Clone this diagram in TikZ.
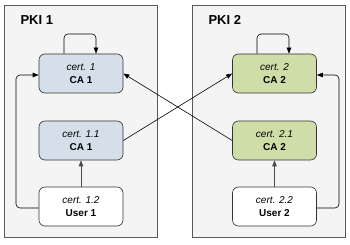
\documentclass[tikz,border=0pt]{standalone}
\usepackage{fontspec}
\setmainfont{Liberation Sans}
\usetikzlibrary{arrows.meta}
\definecolor{caone}{HTML}{D5DFE9}
\definecolor{catwo}{HTML}{CFDDA8}
\definecolor{pkibg}{HTML}{F4F4F4}

\begin{document}
\begin{tikzpicture}[x=1pt, y=-1pt,
    pki/.style={draw=black!65, fill=pkibg, line width=0.6pt},
    title/.style={anchor=base west, font=\fontsize{13}{15}\selectfont\bfseries},
    cert/.style={draw=black!80, fill=white, rounded corners=6pt, minimum width=84pt, minimum height=39pt, inner sep=0pt, line width=0.6pt, align=center, font=\fontsize{10}{13}\selectfont},
    link/.style={-{Triangle[length=6pt,width=4.5pt]}, line width=0.6pt, rounded corners=4pt}]

    \useasboundingbox (0,0) rectangle (350,245);

    % the two PKIs
    \draw[pki] (4.5,5) rectangle (157,237.5);
    \draw[pki] (192,5) rectangle (345,237.5);
    \node[title] (T1) at (17,25) {PKI 1};
    \node[title] (T2) at (205,25) {PKI 2};

    % certificates
    \node[cert, fill=caone] (C1) at (81,73.5) {\textit{cert. 1}\\\textbf{CA 1}};
    \node[cert, fill=caone] (C11) at (81,140.5) {\textit{cert. 1.1}\\\textbf{CA 1}};
    \node[cert] (C12) at (81,206.5) {\textit{cert. 1.2}\\\textbf{User 1}};

    \node[cert, fill=catwo] (C2) at (274.5,73.5) {\textit{cert. 2}\\\textbf{CA 2}};
    \node[cert, fill=catwo] (C21) at (274.5,140.5) {\textit{cert. 2.1}\\\textbf{CA 2}};
    \node[cert] (C22) at (274.5,206.5) {\textit{cert. 2.2}\\\textbf{User 2}};

    % self signed
    \draw[link] (C1.north -| 64,0) |- (80,34) -| (C1.north -| 96,0);
    \draw[link] (C2.north -| 257,0) |- (273,34) -| (C2.north -| 289,0);

    % issued by
    \draw[link, draw=black!70] (C12) -- (C11);
    \draw[link, draw=black!70] (C22) -- (C21);
    \draw[link] (C12.west |- 0,208) -| (16,140) |- (C1.west |- 0,75);
    \draw[link] (C22.east |- 0,208) -| (339,140) |- (C2.east |- 0,75);

    % cross certificates
    \draw[link] (C11.east) -- (C2.west);
    \draw[link] (C21.west) -- (C1.east);
\end{tikzpicture}
\end{document}
